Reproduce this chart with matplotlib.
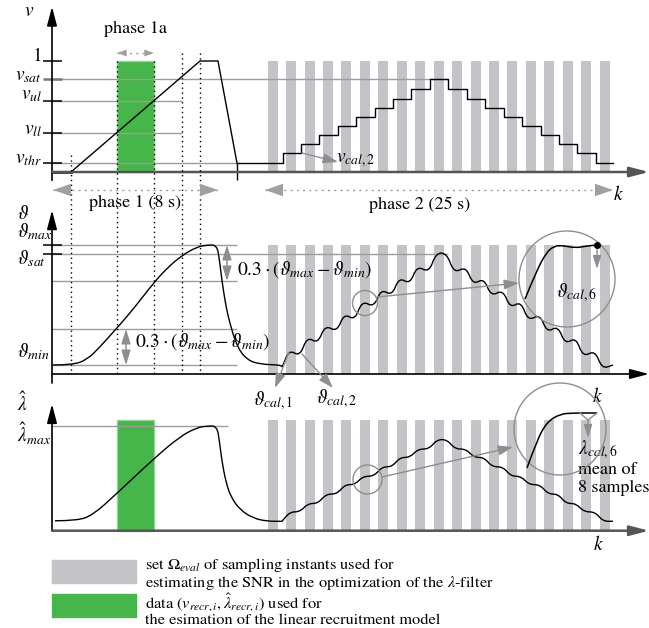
import matplotlib
matplotlib.use("Agg")
import matplotlib.pyplot as plt
from matplotlib.path import Path
from matplotlib.patches import PathPatch, Rectangle, Circle, FancyArrowPatch

plt.rcParams["font.family"] = ["STIXGeneral", "DejaVu Serif"]
plt.rcParams["mathtext.fontset"] = "stix"

STRIPE = "#c4c3c7"
GREEN = "#46b64a"
LEVEL = "#9c9c9c"
GREY = "#8e8e8e"

# time axis k of the schematic (phase 1 ramp, then phase 2 staircase)
phase1_marks = [71, 117, 154, 182, 200]
recr_window = [117, 154]
stripe_k = [268, 286, 305, 323, 341, 360, 378, 397, 415, 434, 452, 471, 489, 507, 526, 544, 563, 581, 600]
step_k = [283, 301, 319, 338, 356, 375, 393, 411, 430, 448, 467, 485, 504, 522, 541, 559, 577, 596]
phase2_end = 613

# levels of the normalised stimulation v
v_levels = {"1": 1.0, "sat": 0.84, "ul": 0.64, "ll": 0.35, "thr": 0.08}
v_ramp_k = [71, 200, 218, 237]
v_ramp = [0.0, 1.0, 1.0, 0.08]
v_steps = [0.17, 0.25, 0.33, 0.41, 0.50, 0.58, 0.66, 0.75, 0.84,
           0.75, 0.66, 0.58, 0.50, 0.41, 0.33, 0.25, 0.17, 0.08]

# joint angle response
theta_max, theta_sat, theta_min = 1.0, 0.93, 0.07
theta1_k = [53, 72, 87, 100, 117, 133, 154, 167, 182, 197, 207, 217, 219.5, 222, 226, 230, 237, 247, 260, 282]
theta1 = [0.07, 0.07, 0.11, 0.21, 0.357, 0.50, 0.71, 0.82, 0.92, 0.985, 1.0, 1.0, 0.88, 0.72, 0.52, 0.39, 0.21, 0.11, 0.075, 0.07]
theta_steps = [0.16, 0.26, 0.35, 0.44, 0.54, 0.63, 0.72, 0.81, 0.91,
               0.81, 0.72, 0.63, 0.54, 0.44, 0.35, 0.26, 0.16, 0.07]

# filtered recruitment estimate
lam_max = 1.0
lam1_k = [55, 77, 93, 117, 154, 180, 197, 207, 217, 219.5, 222, 226, 231, 240, 253, 267, 282]
lam1 = [0.095, 0.095, 0.15, 0.357, 0.69, 0.90, 0.985, 1.0, 1.0, 0.85, 0.66, 0.46, 0.32, 0.20, 0.12, 0.09, 0.09]
lam_steps = [0.18, 0.26, 0.35, 0.44, 0.52, 0.61, 0.70, 0.78, 0.87,
             0.78, 0.70, 0.61, 0.52, 0.44, 0.35, 0.26, 0.18, 0.09]

# magnified single calibration step (drawn in figure pixels)
zoom_theta_x = [525, 536, 546, 554, 563, 575, 587, 597]
zoom_theta_y = [299, 272, 253, 246, 245.5, 248, 246, 245]
zoom_lam_x = [527, 537, 547, 560, 573, 597]
zoom_lam_y = [468, 440, 422, 414, 413, 413]

fig = plt.figure(figsize=(6.49, 6.28), dpi=100)


def overlay(base, unit):
    """Full-figure axes whose y unit spans `unit` pixels, zero at pixel row `base`."""
    ax = fig.add_axes([0, 0, 1, 1])
    ax.set_xlim(0, 649)
    ax.set_ylim((base - 628) / unit, base / unit)
    ax.axis("off")
    ax.patch.set_alpha(0)
    return ax


ax_v = overlay(172, 111)
ax_t = overlay(374, 129)
ax_l = overlay(530.7, 104.7)
ax_p = fig.add_axes([0, 0, 1, 1])
ax_p.set_xlim(0, 649)
ax_p.set_ylim(628, 0)
ax_p.axis("off")
ax_p.patch.set_alpha(0)


def smooth(ax, xs, ys, **kw):
    """Draw a smooth curve with quadratic Bezier corners through the control points."""
    pts = list(zip(xs, ys))
    verts, codes = [pts[0]], [Path.MOVETO]
    for i in range(1, len(pts) - 1):
        mid = ((pts[i][0] + pts[i + 1][0]) / 2, (pts[i][1] + pts[i + 1][1]) / 2)
        verts += [pts[i], mid]
        codes += [Path.CURVE3, Path.CURVE3]
    verts.append(pts[-1])
    codes.append(Path.LINETO)
    ax.add_patch(PathPatch(Path(verts, codes), fill=False, **kw))


def staircase(edges, levels, start, rise, over, dip):
    """Control points of a staircase response with overshoot."""
    xs, ys = [], []
    prev = start
    for e, lvl in zip(edges, levels):
        s = 1 if lvl > prev else -1
        xs += [e - 1, e + rise]
        ys += [prev - s * dip, lvl + s * over]
        prev = lvl
    xs.append(phase2_end)
    ys.append(prev)
    return xs, ys


def arrow(ax, start, end, color=GREY, lw=1.0, hl=0.9, hw=0.3, style="-|>", scale=10):
    ax.add_patch(FancyArrowPatch(start, end, arrowstyle=f"{style},head_length={hl},head_width={hw}",
                                 mutation_scale=scale, color=color, lw=lw,
                                 shrinkA=0, shrinkB=0, zorder=6))


def axis_frame(ax, top, bottom, color="black", lw=1.2):
    """Vertical and horizontal axis with filled arrow heads."""
    arrow(ax, (52, bottom), (52, top), color="black", lw=1.2, hl=1.15, hw=0.3)
    arrow(ax, (52, 0), (649, 0), color=color, lw=lw, hl=1.15, hw=0.3)


# --- top panel: stimulation v ---
ax_v.bar(stripe_k, 1.0, width=10, align="edge", color=STRIPE, zorder=1)
ax_v.bar(recr_window[0], 1.0, width=recr_window[1] - recr_window[0], align="edge",
         color=GREEN, edgecolor="#8fd392", lw=1, zorder=1)
ax_v.hlines(v_levels["sat"], 52, 448, color=LEVEL, lw=1, zorder=2)
ax_v.hlines([v_levels["ul"], v_levels["ll"]], 52, 182, color=LEVEL, lw=1, zorder=2)
ax_v.hlines(v_levels["thr"], 52, 237, color=LEVEL, lw=1, zorder=2)
ax_v.hlines([v_levels["1"], v_levels["ul"], v_levels["ll"], v_levels["thr"]], 43, 62,
            color="black", lw=1.1, zorder=3)
ax_v.hlines(v_levels["sat"], 43, 62, color="#777777", lw=1.8, zorder=3)
ax_v.plot(v_ramp_k, v_ramp, color="black", lw=1, zorder=4)
ax_v.plot([52, 71], [0, 0], color="#333333", lw=2, zorder=4)
ax_v.vlines(237, -0.075, v_levels["thr"], color="black", lw=1, zorder=4)
ax_v.plot([237] + step_k + [phase2_end], [v_levels["thr"]] + v_steps + [v_levels["thr"]],
          drawstyle="steps-post", color="black", lw=1, zorder=4)
axis_frame(ax_v, 1.49, -0.075, color="#555555", lw=1.8)

# --- middle panel: angle ---
ax_t.bar(stripe_k, theta_max, width=10, align="edge", color=STRIPE, zorder=1)
band = 0.3 * (theta_max - theta_min)
ax_t.hlines([theta_max, theta_max - band, theta_min + band, theta_min], 52, 237,
            color=LEVEL, lw=1, zorder=2)
ax_t.hlines(theta_sat, 52, 448, color=LEVEL, lw=1, zorder=2)
ax_t.hlines([theta_max, theta_sat], 43, 62, color="black", lw=1.1, zorder=3)
tx, ty = staircase(step_k, theta_steps, theta_min, rise=6, over=0.03, dip=0.025)
smooth(ax_t, theta1_k + tx, theta1 + ty, color="black", lw=1, zorder=4)
arrow(ax_t, (227, theta_max - band / 2), (227, theta_max), hl=0.9, hw=0.28)
arrow(ax_t, (227, theta_max - band / 2), (227, theta_max - band), hl=0.9, hw=0.28)
arrow(ax_t, (126, theta_min + band / 2), (126, theta_min + band), hl=0.9, hw=0.28)
arrow(ax_t, (126, theta_min + band / 2), (126, theta_min), hl=0.9, hw=0.28)
axis_frame(ax_t, 1.27, -0.07)

# --- bottom panel: lambda estimate ---
ax_l.bar(stripe_k, 1.06, width=10, align="edge", color=STRIPE, zorder=1)
ax_l.bar(recr_window[0], 1.06, width=recr_window[1] - recr_window[0], align="edge",
         color=GREEN, edgecolor="#8fd392", lw=1, zorder=1)
ax_l.hlines(lam_max, 52, 228, color=LEVEL, lw=1, zorder=2)
lx, ly = staircase(step_k, lam_steps, lam1[-1], rise=7, over=0.0, dip=0.0)
smooth(ax_l, lam1_k + lx, lam1 + ly, color="black", lw=1, zorder=4)
axis_frame(ax_l, 1.21, 0.0, color="#555555", lw=1.8)

# --- phase markers ---
dots = (0, (1, 2.5))
ax_p.vlines(phase1_marks[0], 155, 374, color="black", lw=1, linestyles=[dots], zorder=5)
ax_p.vlines(phase1_marks[1:3], 61, 374, color="black", lw=1, linestyles=[dots], zorder=5)
ax_p.vlines(phase1_marks[3:], 53, 374, color="black", lw=1, linestyles=[dots], zorder=5)

for (x0, x1, y, hl, hw) in [(53, 218, 190, 1.3, 0.45), (265, 613, 190, 1.3, 0.45), (117, 154, 53, 0.7, 0.25)]:
    ax_p.plot([x0, x1], [y, y], color="#a0a0a0", lw=1, linestyle=(0, (1.5, 3)))
    arrow(ax_p, ((x0 + x1) / 2, y), (x0, y), color="#a0a0a0", lw=0, hl=hl, hw=hw)
    arrow(ax_p, ((x0 + x1) / 2, y), (x1, y), color="#a0a0a0", lw=0, hl=hl, hw=hw)

txt = dict(fontsize=13, va="center")
ax_p.text(135, 29, "phase 1a", ha="center", **txt)
ax_p.text(135, 203, "phase 1 (8 s)", ha="center", **txt)
ax_p.text(420, 205, "phase 2 (25 s)", ha="center", **txt)

# --- axis labels ---
lab = dict(fontsize=14, va="center")
ax_p.text(29, 11, r"$v$", ha="center", **lab)
ax_p.text(42, 56, "1", ha="right", **lab)
ax_p.text(42, 76, r"$v_{sat}$", ha="right", **lab)
ax_p.text(42, 95, r"$v_{ul}$", ha="right", **lab)
ax_p.text(42, 130, r"$v_{ll}$", ha="right", **lab)
ax_p.text(42, 159, r"$v_{thr}$", ha="right", **lab)
ax_p.text(17, 214, r"$\vartheta$", ha="left", **lab)
ax_p.text(17, 232, r"$\vartheta_{max}$", ha="left", **lab)
ax_p.text(17, 259, r"$\vartheta_{sat}$", ha="left", **lab)
ax_p.text(17, 352, r"$\vartheta_{min}$", ha="left", **lab)
ax_p.text(17, 403, r"$\hat{\lambda}$", ha="left", **lab)
ax_p.text(17, 434, r"$\hat{\lambda}_{max}$", ha="left", **lab)
ax_p.text(618, 194, r"$k$", ha="center", **lab)
ax_p.text(597, 396, r"$k$", ha="center", **lab)
ax_p.text(598, 545, r"$k$", ha="center", **lab)
ax_p.text(237, 270, r"$0.3\cdot(\vartheta_{max}-\vartheta_{min})$", ha="left", **lab)
ax_p.text(135, 342, r"$0.3\cdot(\vartheta_{max}-\vartheta_{min})$", ha="left", **lab)

# --- calibration annotations ---
arrow(ax_p, (302, 153), (338, 162))
ax_p.text(336, 160, r"$v_{cal,2}$", ha="left", **lab)
arrow(ax_p, (289, 352), (275, 388))
arrow(ax_p, (302, 354), (333, 388))
ax_p.text(273, 401, r"$\vartheta_{cal,1}$", ha="center", **lab)
ax_p.text(337, 399, r"$\vartheta_{cal,2}$", ha="center", **lab)

ax_p.add_patch(Circle((365, 303), 12.5, fill=False, color=GREY, lw=1, zorder=6))
ax_p.add_patch(Circle((567, 279), 48, fill=False, color=GREY, lw=1, zorder=6))
arrow(ax_p, (377, 297), (519, 283))
smooth(ax_p, zoom_theta_x, zoom_theta_y, color="black", lw=1.1, zorder=7)
ax_p.plot(zoom_theta_x[-1], zoom_theta_y[-1], "o", color="black", ms=4, zorder=8)
arrow(ax_p, (597, 249), (597, 269), hl=0.8, hw=0.25)
ax_p.text(577, 293, r"$\vartheta_{cal,6}$", ha="center", **lab)

ax_p.add_patch(Circle((367.5, 479.5), 14.5, fill=False, color=GREY, lw=1, zorder=6))
ax_p.add_patch(Circle((560, 429), 46, fill=False, color=GREY, lw=1, zorder=6))
arrow(ax_p, (382, 477), (513, 447))
smooth(ax_p, zoom_lam_x, zoom_lam_y, color="black", lw=1.1, zorder=7)
ax_p.plot([580, 588, 597], [413, 420, 413], color=GREY, lw=1, zorder=7)
arrow(ax_p, (588, 420), (588, 438), hl=0.8, hw=0.25)
ax_p.text(578, 450, r"$\lambda_{cal,6}$", ha="left", **lab)
ax_p.text(578, 470, "mean of", ha="left", fontsize=13, va="center")
ax_p.text(578, 488, "8 samples", ha="left", fontsize=13, va="center")

# --- legend ---
ax_p.add_patch(Rectangle((52, 560), 84, 23, color=STRIPE))
ax_p.add_patch(Rectangle((52, 594), 84, 23, color=GREEN))
leg = dict(fontsize=11.8, va="baseline", ha="left")
ax_p.text(145, 569, r"set $\Omega_{eval}$ of sampling instants used for", **leg)
ax_p.text(145, 586.5, r"estimating the SNR in the optimization of the $\lambda$-filter", **leg)
ax_p.text(145, 608, r"data $(v_{recr,i},\hat{\lambda}_{recr,i})$ used for", **leg)
ax_p.text(145, 624.5, "the esimation of the linear recruitment model", **leg)

fig.savefig("out.png", dpi=100)
